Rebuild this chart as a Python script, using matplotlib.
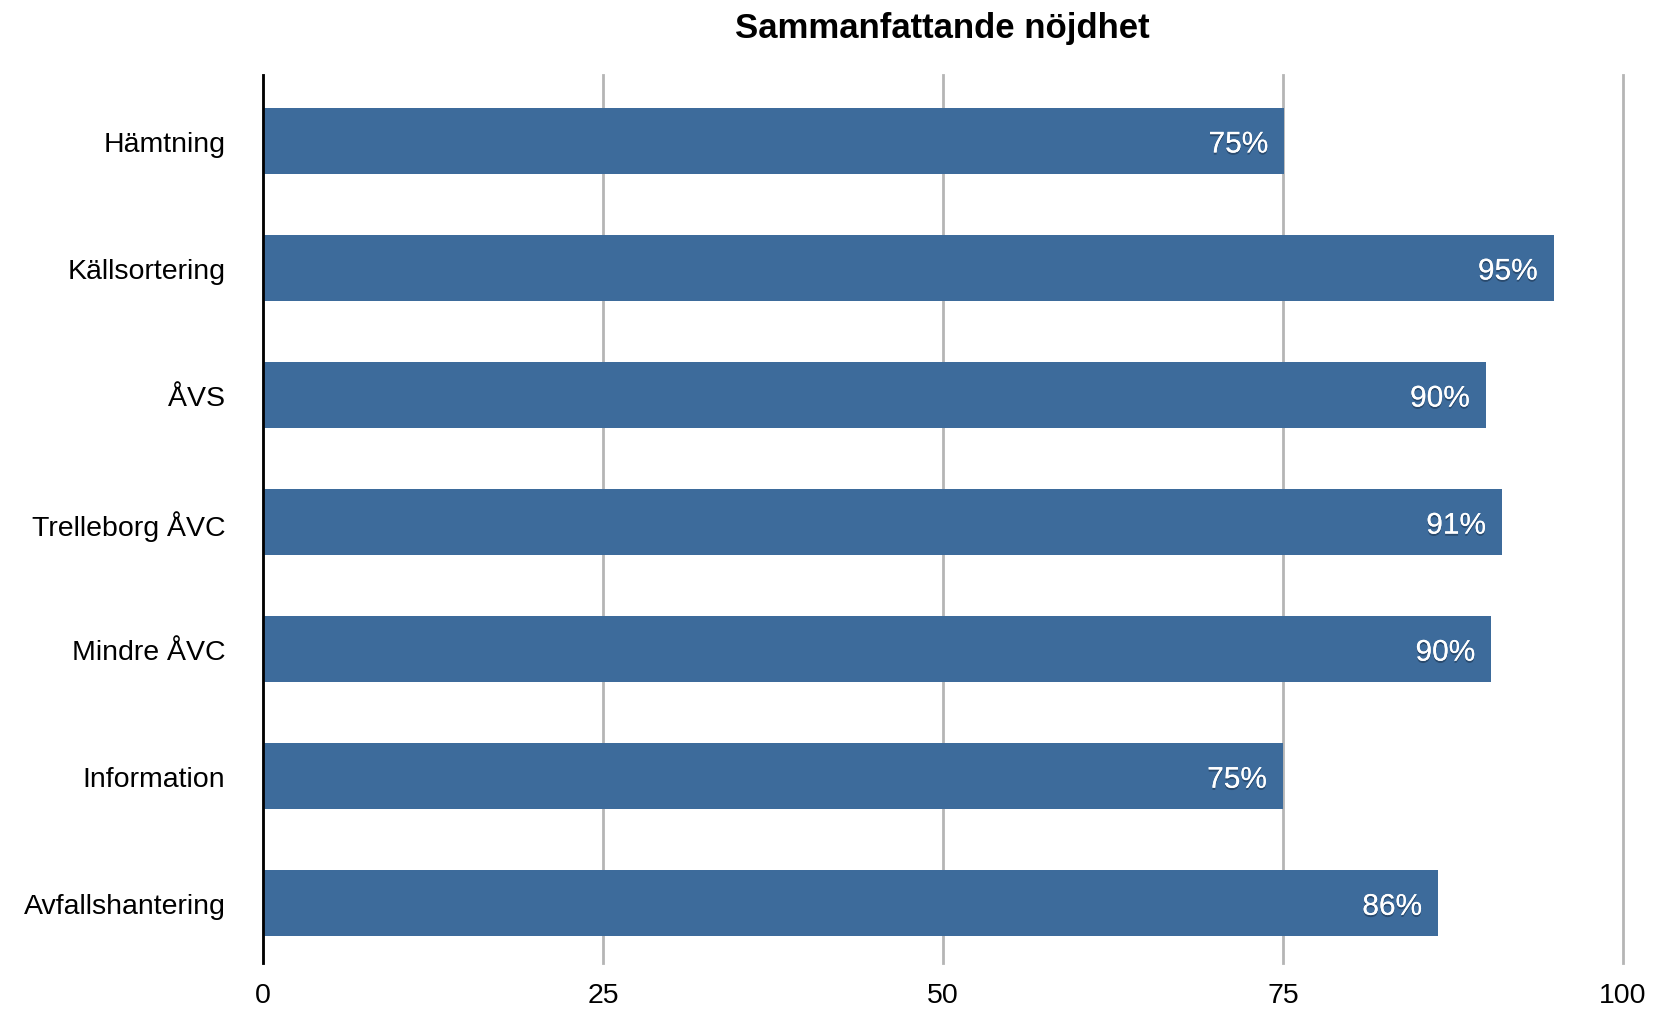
import matplotlib.pyplot as plt
import matplotlib.patheffects as pe

categories = ["Hämtning", "Källsortering", "ÅVS", "Trelleborg ÅVC",
              "Mindre ÅVC", "Information", "Avfallshantering"]
values = [75.1, 94.9, 89.9, 91.1, 90.3, 75.0, 86.4]
xticks = [0, 25, 50, 75, 100]

plt.rcParams["font.family"] = ["Liberation Sans", "DejaVu Sans"]

fig = plt.figure(figsize=(16.57, 10.12), dpi=100)
ax = fig.add_axes([0.1587, 0.0474, 0.9795 - 0.1587, 0.925 - 0.0474])

pos = list(range(len(categories)))
bars = ax.barh(pos, values, height=0.52, color="#3d6b9b", zorder=3)

for y, v in zip(pos, values):
    ax.annotate(f"{v:.0f}%", xy=(v, y), xytext=(-11.5, -2.5), textcoords="offset points",
                ha="right", va="center", color="white", fontsize=21.5, zorder=4,
                path_effects=[pe.withSimplePatchShadow(offset=(0, -1.5), shadow_rgbFace="#1d3550", alpha=0.6),
                              pe.Normal()])

ax.set_xlim(0, 100)
ax.set_ylim(6.47, -0.52)
ax.set_xticks(xticks)
ax.set_xticklabels([str(t) for t in xticks])
ax.set_yticks(pos)
ax.set_yticklabels(categories)
ax.tick_params(axis="both", length=0, labelsize=20.5)
ax.tick_params(axis="x", pad=14)
ax.tick_params(axis="y", pad=27)

ax.grid(axis="x", color="#b5b5b5", linewidth=2, zorder=1)
ax.grid(axis="y", visible=False)
for gl in ax.get_xgridlines():
    gl.set_clip_on(False)
for s in ["top", "right", "bottom"]:
    ax.spines[s].set_visible(False)
ax.spines["left"].set_linewidth(2)
ax.spines["left"].set_color("black")
ax.spines["left"].set_zorder(5)

fig.text(0.5685, 0.972, "Sammanfattande nöjdhet", ha="center", va="center",
         fontsize=25, fontweight="bold")

fig.savefig("out.png", dpi=100)
